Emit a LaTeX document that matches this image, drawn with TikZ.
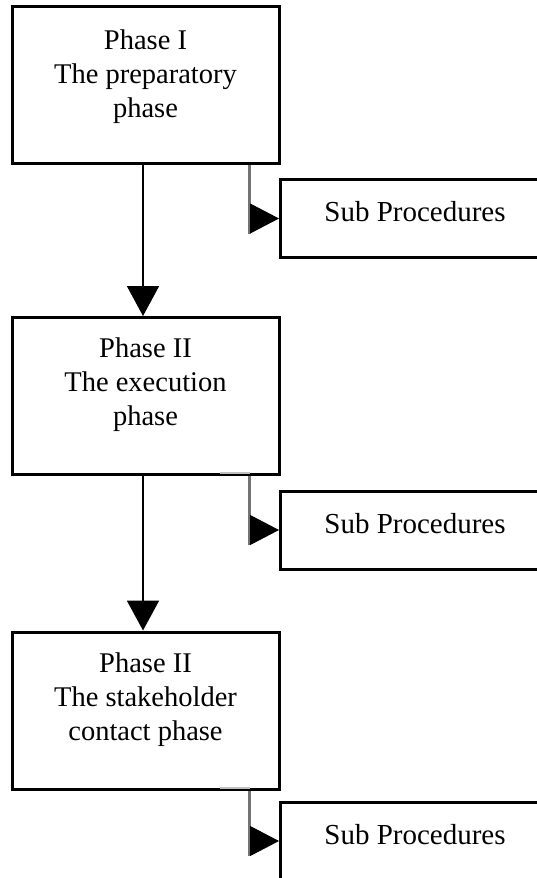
\documentclass[tikz,border=0pt]{standalone}
\usepackage{fontspec}
\setmainfont{Liberation Serif}
\usetikzlibrary{arrows.meta,calc}
\begin{document}
\begin{tikzpicture}[x=1pt,y=-1pt,
  phasebox/.style={draw,line width=3pt,minimum width=267pt,minimum height=157pt,inner sep=0pt},
  phasetext/.style={font=\fontsize{28.5}{34}\selectfont,align=center,inner sep=0pt,anchor=north,yshift=-22pt},
  subbox/.style={draw,line width=3pt,minimum width=269pt,minimum height=78pt,anchor=west,inner sep=0pt,
    font=\fontsize{29}{34}\selectfont,text depth=14pt},
  flow/.style={line width=2pt,-{Triangle[length=30pt,width=32pt]}},
  subline/.style={line width=2.5pt,draw=black!55},
  stub/.style={line width=2pt,draw=black!25},
  subarrow/.style={line width=1pt,-{Triangle[length=29pt,width=30pt]}}
]
\useasboundingbox (0,0) rectangle (537,878);
\clip (0,0) rectangle (537,878);

% main phases
\node[phasebox] (p1) at (145.5,85) {};
\node[phasetext,yshift=-3pt] (t1) at (p1.north) {Phase I\\The preparatory\\phase};
\node[phasebox] (p2) at (145.5,396) {};
\node[phasetext] (t2) at (p2.north) {Phase II\\The execution\\phase};
\node[phasebox] (p3) at (145.5,710.5) {};
\node[phasetext] (t3) at (p3.north) {Phase II\\The stakeholder\\contact phase};

% sub procedure boxes
\node[subbox] (s1) at (279,218.5) {Sub Procedures};
\node[subbox] (s2) at (279,530) {Sub Procedures};
\node[subbox] (s3) at (279,841) {Sub Procedures};

% flow between phases
\draw[flow] ([xshift=-2.5pt]p1.south) -- ([xshift=-2.5pt]p2.north);
\draw[flow] ([xshift=-2.5pt]p2.south) -- ([xshift=-2.5pt]p3.north);

% branches to the sub procedures
\foreach \p/\s in {p1/s1,p2/s2,p3/s3}{
  \coordinate (c\p) at ([xshift=-31pt]\p.south east);
  \draw[subline] (c\p) -- ($(c\p |- \s.west)+(0,15)$);
  \draw[subarrow] ([xshift=-29pt]\s.west) -- (\s.west);
}
\draw[stub] ([xshift=-61pt,yshift=3pt]p2.south east) -- ([xshift=-31pt,yshift=3pt]p2.south east);
\draw[stub] ([xshift=-61pt,yshift=3pt]p3.south east) -- ([xshift=-31pt,yshift=3pt]p3.south east);
\end{tikzpicture}
\end{document}
